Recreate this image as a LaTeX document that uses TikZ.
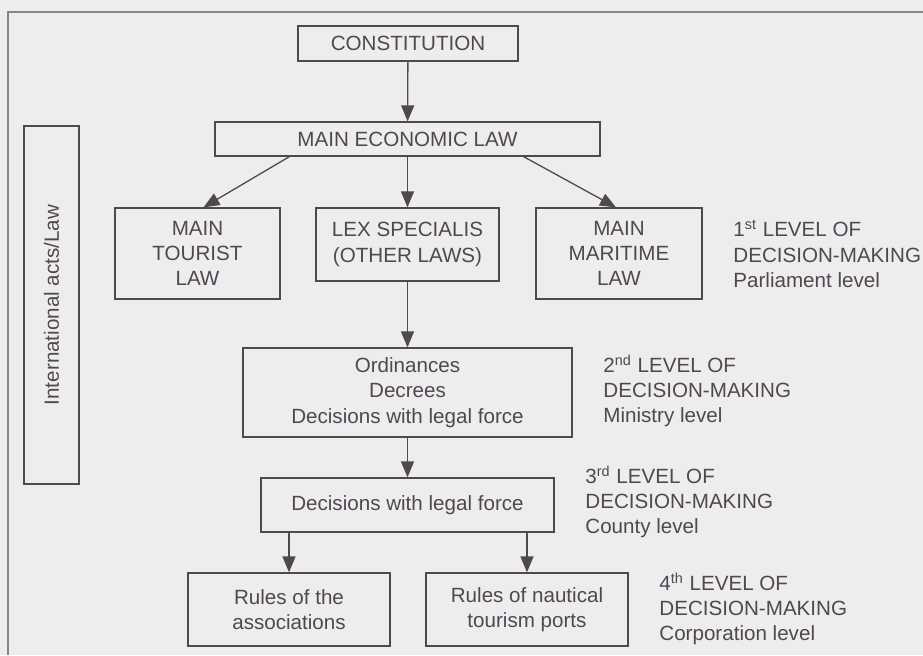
\documentclass[tikz,border=0pt]{standalone}
\usepackage{fontspec}
\setmainfont{Liberation Sans}
\usetikzlibrary{arrows.meta}
\definecolor{paper}{HTML}{EDECEE}
\definecolor{ink}{HTML}{51484E}
\definecolor{frame}{HTML}{8A8589}
\begin{document}
\begin{tikzpicture}[x=0.5pt,y=-0.5pt,
  every node/.style={text=ink,font=\fontsize{10.3}{12.6}\selectfont},
  lawbox/.style={draw=ink,line width=0.65pt,align=center,inner sep=0pt},
  levelnote/.style={anchor=west,align=left,inner sep=0pt},
  link/.style={draw=ink,line width=0.65pt,-{Triangle[length=8pt,width=6.5pt]}}]
\useasboundingbox[fill=paper] (0,0) rectangle (923,655);
\draw[frame,line width=0.8pt] (923,12) -- (8,12) -- (8,655);
\node[lawbox,minimum width=110pt,minimum height=17.5pt] (const) at (408,43.5) {CONSTITUTION};
\node[lawbox,minimum width=192.5pt,minimum height=17pt] (econ) at (407.5,139) {MAIN ECONOMIC LAW};
\node[lawbox,minimum width=82.5pt,minimum height=45.5pt] (tourist) at (197.5,253.5) {MAIN\\TOURIST\\LAW};
\node[lawbox,minimum width=91.5pt,minimum height=36.5pt] (lex) at (407.5,244.5) {LEX SPECIALIS\\(OTHER LAWS)};
\node[lawbox,minimum width=83pt,minimum height=45.5pt] (maritime) at (619,253.5) {MAIN\\MARITIME\\LAW};
\node[lawbox,minimum width=164.5pt,minimum height=44.5pt] (ordin) at (407.5,392.5) {Ordinances\\Decrees\\Decisions with legal force};
\node[lawbox,minimum width=146.5pt,minimum height=27pt] (decis) at (407.5,505) {Decisions with legal force};
\node[lawbox,minimum width=101pt,minimum height=36.5pt] (assoc) at (289,609.5) {Rules of the\\associations};
\node[lawbox,minimum width=101pt,minimum height=36.5pt] (ports) at (527,609.5) {Rules of nautical\\tourism ports};
\node[lawbox,rotate=90,minimum width=179pt,minimum height=27.5pt] (intl) at (51.5,305) {International acts/Law};
\node[levelnote] (lvl1) at (733,254) {1\textsuperscript{st} LEVEL OF\\DECISION-MAKING\\Parliament level};
\node[levelnote] (lvl2) at (603,391) {2\textsuperscript{nd} LEVEL OF\\DECISION-MAKING\\Ministry level};
\node[levelnote] (lvl3) at (585,502) {3\textsuperscript{rd} LEVEL OF\\DECISION-MAKING\\County level};
\node[levelnote] (lvl4) at (659,609) {4\textsuperscript{th} LEVEL OF\\DECISION-MAKING\\Corporation level};
\draw[link] (const) -- (econ);
\draw[link] ([xshift=37.5pt]econ.south west) -- ([xshift=3pt]tourist.north);
\draw[link] (econ) -- (lex);
\draw[link] ([xshift=-38.5pt]econ.south east) -- ([xshift=-1.5pt]maritime.north);
\draw[link] (lex) -- (ordin);
\draw[link] (ordin) -- (decis);
\draw[link] (assoc.north |- decis.south) -- (assoc);
\draw[link] (ports.north |- decis.south) -- (ports);
\end{tikzpicture}
\end{document}
